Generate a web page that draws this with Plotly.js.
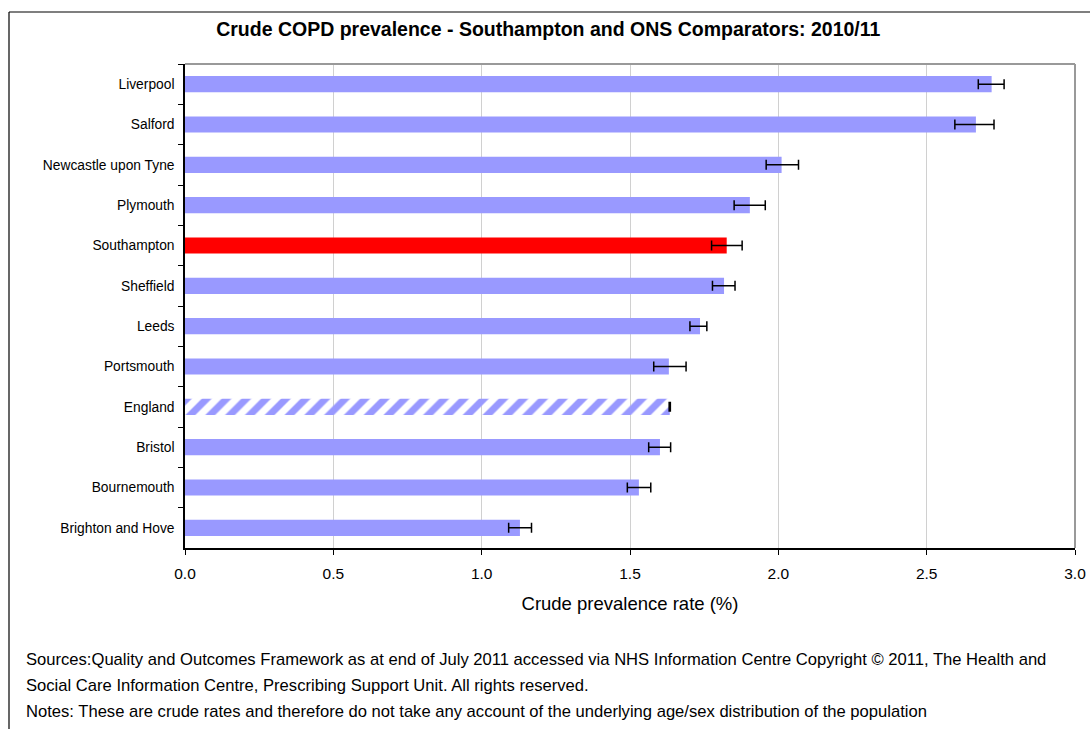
<!DOCTYPE html>
<html>
<head>
<meta charset="utf-8">
<script src="https://cdn.plot.ly/plotly-3.0.1.min.js"></script>
<style>
  html, body { margin: 0; padding: 0; background: #ffffff; }
  #copd_chart { width: 1090px; height: 729px; }
</style>
</head>
<body>
<div id="copd_chart"></div>
<script>
// areas, top to bottom
var areas = ['Liverpool', 'Salford', 'Newcastle upon Tyne', 'Plymouth', 'Southampton',
	'Sheffield', 'Leeds', 'Portsmouth', 'England', 'Bristol', 'Bournemouth', 'Brighton and Hove'];

// crude prevalence (%) with 95% confidence limits
var prevalence = [2.719, 2.666, 2.011, 1.904, 1.826, 1.817, 1.736, 1.631, 1.634, 1.601, 1.530, 1.129];
var ci_lower   = [2.674, 2.595, 1.959, 1.851, 1.775, 1.778, 1.702, 1.580, 1.632, 1.563, 1.491, 1.091];
var ci_upper   = [2.761, 2.727, 2.068, 1.956, 1.878, 1.854, 1.759, 1.689, 1.636, 1.637, 1.570, 1.168];

var x_ticks = [0, 0.5, 1.0, 1.5, 2.0, 2.5, 3.0];
var x_tick_labels = ['0.0', '0.5', '1.0', '1.5', '2.0', '2.5', '3.0'];

var source_lines = [
	'Sources:Quality and Outcomes Framework as at end of July 2011 accessed via NHS Information Centre Copyright \u00a9 2011, The Health and',
	'Social Care Information Centre, Prescribing Support Unit. All rights reserved.',
	'Notes: These are crude rates and therefore do not take any account of the underlying age/sex distribution of the population'
];

function showPrevalence(){

	var bar_colors = [];
	var bar_shapes = [];
	for(var i=0; i<areas.length; i++){
		bar_colors.push(areas[i] == 'Southampton' ? '#ff0000' : '#9999ff');
		bar_shapes.push(areas[i] == 'England' ? '/' : '');
	}

	var err_plus = [];
	var err_minus = [];
	for(var i=0; i<prevalence.length; i++){
		err_plus.push(ci_upper[i] - prevalence[i]);
		err_minus.push(prevalence[i] - ci_lower[i]);
	}

	var data = [{
		type: 'bar',
		orientation: 'h',
		x: prevalence,
		y: areas,
		width: 0.4,
		marker: {
			color: bar_colors,
			line: {width: 0},
			pattern: {
				shape: bar_shapes,
				fillmode: 'replace',
				size: 14,
				solidity: 0.5
			}
		},
		error_x: {
			type: 'data',
			symmetric: false,
			array: err_plus,
			arrayminus: err_minus,
			color: '#000000',
			thickness: 1.5,
			width: 5
		},
		hoverinfo: 'x+y'
	}];

	// outer frame and the grey plot border, in paper units
	var fl = (9 - 185) / 890;
	var ft = 1 + (64 - 12) / 484;
	var fb = -(729 - 548) / 484;

	var annotations = [];
	var line_y = [659, 685, 711];
	for(var i=0; i<source_lines.length; i++){
		annotations.push({
			xref: 'paper', yref: 'paper',
			x: (24 - 185) / 890,
			y: -(line_y[i] - 548) / 484,
			xanchor: 'left', yanchor: 'middle',
			text: source_lines[i],
			showarrow: false,
			font: {size: 16.6, color: '#000000'}
		});
	}

	var layout = {
		title: {
			text: '<b>Crude COPD prevalence - Southampton and ONS Comparators: 2010/11</b>',
			font: {size: 19.5, color: '#000000'},
			x: 0.503,
			xref: 'container',
			y: 1 - 29 / 729,
			yref: 'container',
			yanchor: 'middle'
		},
		font: {family: 'Liberation Sans, Arial, sans-serif', color: '#000000'},
		width: 1090,
		height: 729,
		margin: {l: 185, r: 15, t: 64, b: 181, pad: 0},
		paper_bgcolor: '#ffffff',
		plot_bgcolor: '#ffffff',
		showlegend: false,
		bargap: 0.6,
		xaxis: {
			range: [0, 3],
			tickmode: 'array',
			tickvals: x_ticks,
			ticktext: x_tick_labels,
			ticks: 'outside',
			ticklen: 5,
			tickcolor: '#000000',
			tickfont: {size: 15.5},
			ticklabelstandoff: 6,
			showgrid: true,
			gridcolor: '#d0d0d0',
			gridwidth: 1,
			showline: true,
			linecolor: '#000000',
			linewidth: 1.5,
			zeroline: false,
			fixedrange: true,
			title: {
				text: 'Crude prevalence rate (%)',
				font: {size: 18.5},
				standoff: 16
			}
		},
		yaxis: {
			type: 'category',
			autorange: 'reversed',
			tickson: 'boundaries',
			ticks: 'outside',
			ticklen: 5,
			tickcolor: '#000000',
			tickfont: {size: 13.8},
			ticklabelstandoff: 6,
			showgrid: false,
			showline: true,
			linecolor: '#000000',
			linewidth: 1.5,
			zeroline: false,
			fixedrange: true
		},
		shapes: [
			{type: 'line', xref: 'paper', yref: 'paper', x0: 0, x1: 1, y0: 1, y1: 1,
				line: {color: '#999999', width: 2}},
			{type: 'line', xref: 'paper', yref: 'paper', x0: 1, x1: 1, y0: 0, y1: 1,
				line: {color: '#999999', width: 2}},
			{type: 'line', xref: 'paper', yref: 'paper', x0: fl, x1: fl, y0: fb, y1: ft,
				line: {color: '#000000', width: 1.2}},
			{type: 'line', xref: 'paper', yref: 'paper', x0: fl, x1: 1.02, y0: ft, y1: ft,
				line: {color: '#000000', width: 1.2}}
		],
		annotations: annotations
	};

	var config = {responsive: false, displayModeBar: false};

	Plotly.newPlot('copd_chart', data, layout, config);
}

showPrevalence();
</script>
</body>
</html>
